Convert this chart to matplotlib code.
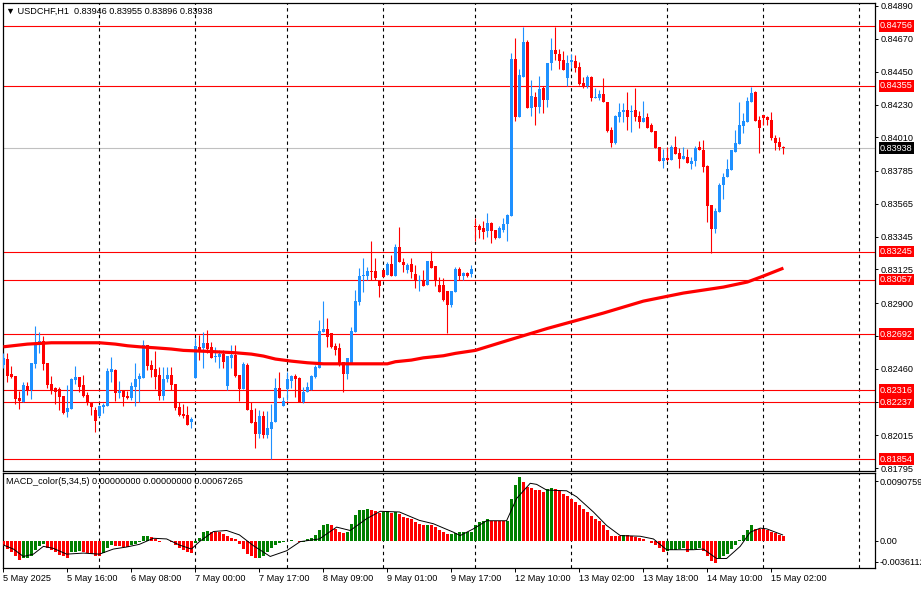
import numpy as np
import matplotlib.pyplot as plt
from matplotlib.transforms import blended_transform_factory

plt.rcParams['font.family'] = ['Liberation Sans', 'DejaVu Sans']

# USDCHF H1 candles, 5 May 2025 00:00 .. 15 May 2025 05:00 (bar index 0..195)
opens = [0.82485, 0.82525, 0.82424, 0.82411, 0.82263, 0.82237, 0.82344, 0.82317, 0.82491, 0.82619,
         0.82645, 0.82498, 0.82357, 0.82330, 0.82324, 0.82277, 0.82170, 0.82190, 0.82384, 0.82404,
         0.82351, 0.82284, 0.82237, 0.82183, 0.82143, 0.82203, 0.82210, 0.82438, 0.82451, 0.82297,
         0.82317, 0.82277, 0.82263, 0.82337, 0.82391, 0.82397, 0.82619, 0.82485, 0.82458, 0.82418,
         0.82277, 0.82391, 0.82418, 0.82357, 0.82203, 0.82156, 0.82150, 0.82103, 0.82397, 0.82605,
         0.82598, 0.82632, 0.82605, 0.82538, 0.82538, 0.82558, 0.82344, 0.82531, 0.82552, 0.82418,
         0.82324, 0.82485, 0.82183, 0.82103, 0.82022, 0.82143, 0.82016, 0.82056, 0.82103, 0.82330,
         0.82210, 0.82324, 0.82377, 0.82411, 0.82397, 0.82237, 0.82304, 0.82317, 0.82404, 0.82464,
         0.82706, 0.82726, 0.82699, 0.82612, 0.82598, 0.82505, 0.82424, 0.82498, 0.82706, 0.82907,
         0.83081, 0.83081, 0.83114, 0.83114, 0.83054, 0.83121, 0.83088, 0.83161, 0.83081, 0.83275,
         0.83175, 0.83121, 0.83161, 0.83094, 0.83047, 0.83054, 0.83021, 0.83181, 0.83148, 0.83021,
         0.83021, 0.82980, 0.82887, 0.82974, 0.83128, 0.83081, 0.83101, 0.83094, 0.83416, 0.83416,
         0.83402, 0.83382, 0.83436, 0.83389, 0.83335, 0.83389, 0.83429, 0.83483, 0.84535, 0.84146,
         0.84414, 0.84649, 0.84206, 0.84280, 0.84213, 0.84340, 0.84260, 0.84508, 0.84595, 0.84568,
         0.84528, 0.84407, 0.84515, 0.84521, 0.84481, 0.84374, 0.84354, 0.84414, 0.84273, 0.84273,
         0.84300, 0.84247, 0.84059, 0.83972, 0.84146, 0.84180, 0.84193, 0.84180, 0.84193, 0.84153,
         0.84113, 0.84146, 0.84093, 0.84052, 0.83945, 0.83851, 0.83871, 0.83858, 0.83945, 0.83905,
         0.83865, 0.83878, 0.83831, 0.83851, 0.83945, 0.83925, 0.83818, 0.83557, 0.83396, 0.83510,
         0.83691, 0.83744, 0.83791, 0.83912, 0.83965, 0.84086, 0.84113, 0.84247, 0.84314, 0.84126,
         0.84160, 0.84146, 0.84126, 0.84005, 0.83979, 0.83946]
highs = [0.82565, 0.82565, 0.82478, 0.82411, 0.82310, 0.82371, 0.82371, 0.82498, 0.82746, 0.82706,
         0.82679, 0.82498, 0.82411, 0.82337, 0.82337, 0.82277, 0.82351, 0.82397, 0.82478, 0.82404,
         0.82418, 0.82304, 0.82237, 0.82203, 0.82217, 0.82230, 0.82464, 0.82538, 0.82458, 0.82377,
         0.82317, 0.82310, 0.82371, 0.82498, 0.82431, 0.82652, 0.82619, 0.82518, 0.82578, 0.82471,
         0.82471, 0.82471, 0.82471, 0.82357, 0.82237, 0.82223, 0.82210, 0.82136, 0.82665, 0.82686,
         0.82706, 0.82719, 0.82639, 0.82605, 0.82585, 0.82585, 0.82545, 0.82619, 0.82619, 0.82418,
         0.82505, 0.82498, 0.82237, 0.82196, 0.82183, 0.82176, 0.82176, 0.82223, 0.82397, 0.82438,
         0.82270, 0.82438, 0.82418, 0.82424, 0.82404, 0.82337, 0.82371, 0.82418, 0.82485, 0.82786,
         0.82913, 0.82799, 0.82699, 0.82632, 0.82632, 0.82505, 0.82531, 0.82739, 0.82987, 0.83134,
         0.83201, 0.83141, 0.83315, 0.83201, 0.83054, 0.83121, 0.83175, 0.83222, 0.83295, 0.83409,
         0.83201, 0.83168, 0.83201, 0.83155, 0.83088, 0.83121, 0.83181, 0.83248, 0.83148, 0.83074,
         0.83067, 0.82980, 0.82980, 0.83141, 0.83141, 0.83108, 0.83108, 0.83155, 0.83469, 0.83429,
         0.83449, 0.83503, 0.83443, 0.83389, 0.83416, 0.83469, 0.83496, 0.84575, 0.84675, 0.84468,
         0.84749, 0.84662, 0.84394, 0.84314, 0.84421, 0.84354, 0.84508, 0.84675, 0.84749, 0.84602,
         0.84588, 0.84562, 0.84568, 0.84562, 0.84515, 0.84414, 0.84428, 0.84421, 0.84340, 0.84327,
         0.84407, 0.84247, 0.84079, 0.84160, 0.84240, 0.84240, 0.84314, 0.84227, 0.84340, 0.84186,
         0.84253, 0.84173, 0.84106, 0.84052, 0.83945, 0.83932, 0.83945, 0.83959, 0.84019, 0.83938,
         0.83945, 0.83932, 0.83878, 0.83952, 0.83985, 0.83992, 0.83825, 0.83557, 0.83536, 0.83704,
         0.83771, 0.83865, 0.83925, 0.84059, 0.84247, 0.84173, 0.84280, 0.84347, 0.84320, 0.84153,
         0.84160, 0.84153, 0.84180, 0.84026, 0.84012, 0.83955]
lows = [0.82464, 0.82371, 0.82397, 0.82223, 0.82190, 0.82237, 0.82284, 0.82257, 0.82464, 0.82565,
        0.82451, 0.82330, 0.82290, 0.82223, 0.82183, 0.82156, 0.82136, 0.82190, 0.82357, 0.82304,
        0.82270, 0.82217, 0.82150, 0.82036, 0.82136, 0.82163, 0.82210, 0.82371, 0.82243, 0.82263,
        0.82210, 0.82257, 0.82250, 0.82210, 0.82237, 0.82397, 0.82451, 0.82404, 0.82324, 0.82250,
        0.82250, 0.82371, 0.82317, 0.82183, 0.82143, 0.82129, 0.82083, 0.82062, 0.82397, 0.82518,
        0.82464, 0.82565, 0.82531, 0.82505, 0.82464, 0.82464, 0.82317, 0.82464, 0.82404, 0.82243,
        0.82324, 0.82183, 0.82096, 0.81928, 0.81995, 0.81995, 0.81995, 0.81855, 0.82103, 0.82263,
        0.82210, 0.82250, 0.82330, 0.82270, 0.82237, 0.82230, 0.82304, 0.82317, 0.82397, 0.82464,
        0.82706, 0.82605, 0.82598, 0.82552, 0.82478, 0.82304, 0.82391, 0.82498, 0.82706, 0.82887,
        0.82974, 0.83054, 0.83054, 0.83054, 0.82940, 0.83074, 0.83088, 0.83081, 0.83081, 0.83175,
        0.83108, 0.83101, 0.83067, 0.83000, 0.82980, 0.83014, 0.83021, 0.83134, 0.83014, 0.82974,
        0.82913, 0.82699, 0.82873, 0.82974, 0.83054, 0.83054, 0.83074, 0.83074, 0.83315, 0.83335,
        0.83329, 0.83342, 0.83302, 0.83329, 0.83335, 0.83376, 0.83315, 0.83483, 0.84119, 0.84146,
        0.84414, 0.84206, 0.84153, 0.84093, 0.84173, 0.84173, 0.84213, 0.84461, 0.84528, 0.84468,
        0.84461, 0.84354, 0.84474, 0.84448, 0.84361, 0.84340, 0.84340, 0.84253, 0.84273, 0.84260,
        0.84247, 0.84046, 0.83945, 0.83965, 0.84113, 0.84113, 0.84059, 0.84046, 0.84119, 0.84072,
        0.84113, 0.84072, 0.84046, 0.83938, 0.83851, 0.83804, 0.83851, 0.83858, 0.83898, 0.83804,
        0.83865, 0.83838, 0.83798, 0.83818, 0.83925, 0.83778, 0.83443, 0.83235, 0.83369, 0.83510,
        0.83597, 0.83744, 0.83791, 0.83912, 0.83965, 0.84039, 0.84113, 0.84247, 0.84119, 0.83905,
        0.84093, 0.84093, 0.83992, 0.83925, 0.83925, 0.83896]
closes = [0.82531, 0.82411, 0.82404, 0.82257, 0.82243, 0.82351, 0.82317, 0.82498, 0.82625, 0.82645,
          0.82491, 0.82351, 0.82317, 0.82304, 0.82270, 0.82163, 0.82196, 0.82391, 0.82404, 0.82337,
          0.82277, 0.82237, 0.82203, 0.82109, 0.82210, 0.82217, 0.82444, 0.82458, 0.82297, 0.82310,
          0.82270, 0.82263, 0.82344, 0.82391, 0.82411, 0.82619, 0.82478, 0.82451, 0.82404, 0.82277,
          0.82391, 0.82418, 0.82351, 0.82196, 0.82150, 0.82143, 0.82083, 0.82123, 0.82612, 0.82578,
          0.82632, 0.82592, 0.82531, 0.82545, 0.82558, 0.82505, 0.82545, 0.82552, 0.82411, 0.82324,
          0.82491, 0.82183, 0.82096, 0.82022, 0.82143, 0.82016, 0.82062, 0.82103, 0.82330, 0.82263,
          0.82243, 0.82391, 0.82411, 0.82391, 0.82237, 0.82304, 0.82337, 0.82411, 0.82471, 0.82712,
          0.82726, 0.82672, 0.82605, 0.82585, 0.82485, 0.82424, 0.82531, 0.82712, 0.82913, 0.83081,
          0.83088, 0.83114, 0.83108, 0.83067, 0.83014, 0.83074, 0.83161, 0.83081, 0.83275, 0.83175,
          0.83155, 0.83155, 0.83108, 0.83054, 0.83054, 0.83014, 0.83181, 0.83134, 0.83054, 0.82974,
          0.82920, 0.82887, 0.82980, 0.83128, 0.83081, 0.83101, 0.83081, 0.83128, 0.83409, 0.83389,
          0.83376, 0.83436, 0.83382, 0.83335, 0.83402, 0.83429, 0.83490, 0.84535, 0.84146, 0.84428,
          0.84649, 0.84206, 0.84287, 0.84213, 0.84334, 0.84260, 0.84508, 0.84595, 0.84568, 0.84521,
          0.84461, 0.84508, 0.84528, 0.84474, 0.84367, 0.84347, 0.84414, 0.84273, 0.84280, 0.84300,
          0.84247, 0.84052, 0.83972, 0.84153, 0.84180, 0.84193, 0.84146, 0.84186, 0.84146, 0.84113,
          0.84139, 0.84072, 0.84046, 0.83938, 0.83851, 0.83871, 0.83858, 0.83945, 0.83898, 0.83865,
          0.83885, 0.83838, 0.83851, 0.83938, 0.83925, 0.83811, 0.83550, 0.83396, 0.83516, 0.83691,
          0.83744, 0.83798, 0.83925, 0.83972, 0.84093, 0.84119, 0.84253, 0.84307, 0.84119, 0.84072,
          0.84139, 0.84126, 0.84005, 0.83972, 0.83945, 0.83938]

# moving average (thick red line), read at some bars
ma_idx = [0, 6, 12, 24, 28, 31, 34, 38, 42, 45, 53, 58, 62, 65, 68, 72, 76, 80, 96, 98,
          102, 105, 110, 113, 118, 126, 136, 150, 160, 170, 180, 186, 190, 195]
ma_val = [0.82607, 0.82625, 0.82634, 0.82634, 0.82625, 0.82614, 0.82607, 0.82600, 0.82592, 0.82583,
          0.82574, 0.82567, 0.82558, 0.82545, 0.82525, 0.82511, 0.82500, 0.82493, 0.82493, 0.82507,
          0.82518, 0.82533, 0.82547, 0.82563, 0.82583, 0.82649, 0.82730, 0.82833, 0.82913, 0.82967,
          0.83007, 0.83041, 0.83081, 0.83134]

# horizontal levels
levels = [0.84756, 0.84355, 0.83245, 0.83057, 0.82692, 0.82316, 0.82237, 0.81854]
bid = 0.83938

# MACD_color(5,34,5) histogram and signal
macd = [-0.00072, -0.00108, -0.00153, -0.00198, -0.00252, -0.00234, -0.00233, -0.00198, -0.00117, -0.00063,
        -0.00045, -0.00099, -0.00117, -0.00153, -0.00189, -0.00207, -0.00225, -0.00153, -0.00144, -0.00140,
        -0.00153, -0.00162, -0.00176, -0.00198, -0.00199, -0.00162, -0.00099, -0.00054, -0.00072, -0.00073,
        -0.00074, -0.00075, -0.00054, -0.00036, -0.00018, 0.00063, 0.00064, 0.00054, 0.00027, -0.00009,
        -0.00005, 0.00002, -0.00018, -0.00054, -0.00099, -0.00117, -0.00153, -0.00162, -0.00027, 0.00045,
        0.00126, 0.00135, 0.00126, 0.00124, 0.00117, 0.00090, 0.00063, 0.00045, 0.00027, -0.00045,
        -0.00108, -0.00180, -0.00198, -0.00225, -0.00222, -0.00198, -0.00144, -0.00099, -0.00054, -0.00027,
        -0.00009, 0.00000, 0.00018, 0.00000, -0.00018, -0.00009, 0.00027, 0.00036, 0.00081, 0.00153,
        0.00207, 0.00225, 0.00207, 0.00162, 0.00117, 0.00108, 0.00117, 0.00230, 0.00342, 0.00410,
        0.00419, 0.00423, 0.00410, 0.00396, 0.00378, 0.00387, 0.00396, 0.00378, 0.00387, 0.00365,
        0.00320, 0.00306, 0.00288, 0.00252, 0.00230, 0.00207, 0.00216, 0.00207, 0.00185, 0.00153,
        0.00126, 0.00095, 0.00099, 0.00108, 0.00117, 0.00119, 0.00122, 0.00126, 0.00207, 0.00252,
        0.00270, 0.00288, 0.00270, 0.00266, 0.00265, 0.00261, 0.00270, 0.00567, 0.00747, 0.00851,
        0.00783, 0.00725, 0.00702, 0.00684, 0.00675, 0.00657, 0.00693, 0.00702, 0.00700, 0.00666,
        0.00621, 0.00603, 0.00567, 0.00522, 0.00477, 0.00423, 0.00387, 0.00333, 0.00297, 0.00261,
        0.00216, 0.00153, 0.00072, 0.00070, 0.00068, 0.00081, 0.00077, 0.00072, 0.00050, 0.00036,
        0.00027, 0.00000, -0.00027, -0.00054, -0.00099, -0.00144, -0.00131, -0.00126, -0.00117, -0.00108,
        -0.00099, -0.00144, -0.00117, -0.00108, -0.00099, -0.00131, -0.00198, -0.00266, -0.00297, -0.00234,
        -0.00207, -0.00176, -0.00108, -0.00054, 0.00018, 0.00081, 0.00153, 0.00207, 0.00160, 0.00158,
        0.00156, 0.00140, 0.00120, 0.00100, 0.00080, 0.00067]
sig_idx = [0, 2.5, 5, 7.5, 10, 12.5, 15.8, 20, 24, 27.5, 30.8, 34, 37.5, 40.8, 44, 47, 49, 52.5,
           55.8, 59, 62.5, 66.7, 70.8, 74.2, 79, 83.3, 86.7, 90.8, 94.2, 99, 104, 107.5, 112.5,
           114.2, 117.5, 120.8, 125.8, 128.3, 131.7, 133.3, 135.8, 140.8, 143.3, 147.5, 150.8,
           154.2, 159.2, 162.5, 165.8, 172.5, 175, 178.3, 180.8, 184.2, 186.7, 189.2, 190.8, 194.8]
sig_val = [-0.00054, -0.00108, -0.00207, -0.00176, -0.00072, -0.00099, -0.00176, -0.00162, -0.00176,
           -0.00108, -0.00081, -0.00045, 0.00036, 0.00027, -0.00054, -0.00108, -0.00009, 0.00126,
           0.00140, 0.00081, -0.00063, -0.00207, -0.00131, -0.00009, 0.00027, 0.00185, 0.00140,
           0.00297, 0.00396, 0.00387, 0.00275, 0.00230, 0.00117, 0.00072, 0.00162, 0.00270, 0.00270,
           0.00567, 0.00770, 0.00756, 0.00680, 0.00670, 0.00590, 0.00387, 0.00207, 0.00072, 0.00063,
           0.00027, -0.00117, -0.00117, -0.00108, -0.00234, -0.00234, -0.00072, 0.00117, 0.00171,
           0.00162, 0.00081]

price_ticks = [0.84890, 0.84670, 0.84450, 0.84230, 0.84010, 0.83785, 0.83565, 0.83345, 0.83125,
               0.82900, 0.82680, 0.82460, 0.82235, 0.82015, 0.81795]
time_pos = [0, 16, 32, 48, 64, 80, 96, 112, 128, 144, 160, 176, 192]
time_labels = ["5 May 2025", "5 May 16:00", "6 May 08:00", "7 May 00:00", "7 May 17:00",
               "8 May 09:00", "9 May 01:00", "9 May 17:00", "12 May 10:00", "13 May 02:00",
               "13 May 18:00", "14 May 10:00", "15 May 02:00"]
day_starts = [24, 48, 71, 95, 118, 142, 166, 190, 214]

BLUE = '#1E90FF'
RED = '#FF0000'
GREEN = '#008000'
FS = 6.6

W, H = 921, 590
fig = plt.figure(figsize=(W / 100, H / 100), dpi=100)


def box(x0, y0, x1, y1):
    return [x0 / W, 1 - y1 / H, (x1 - x0) / W, (y1 - y0) / H]


ax = fig.add_axes(box(3, 3, 875, 471))
axm = fig.add_axes(box(3, 473, 875, 568))

o = np.array(opens)
h = np.array(highs)
l = np.array(lows)
c = np.array(closes)
x = np.arange(len(o))
col = np.where(c >= o, BLUE, RED)

# candles
ax.vlines(x, l, h, colors=col, lw=0.8, zorder=3)
body = np.maximum(np.abs(c - o), 0.00003)
ax.bar(x, body, bottom=np.minimum(o, c), width=0.78, color=col, lw=0, zorder=4)

ax.plot(ma_idx, ma_val, color=RED, lw=2.3, solid_capstyle='butt', zorder=5)

for lv in levels:
    ax.axhline(lv, color=RED, lw=0.8, zorder=2)
ax.axhline(bid, color='#C0C0C0', lw=0.8, zorder=1)

for a in (ax, axm):
    for d in day_starts:
        a.axvline(d, color='black', lw=0.8, ls=(0, (3, 3)), zorder=1)
    a.set_xlim(-0.1, 217.9)
    for s in a.spines.values():
        s.set_color('black')
        s.set_linewidth(0.9)

ax.set_ylim(0.81775, 0.84910)
ax.yaxis.tick_right()
ax.set_yticks(price_ticks)
# labels under the level boxes are covered in the original, left blank here
covered = {0.82680, 0.82235}
ax.set_yticklabels(["" if v in covered else f"{v:.5f}" for v in price_ticks])
ax.tick_params(axis='y', direction='out', length=2.5, width=0.7, pad=1.5, labelsize=FS)
ax.set_xticks([])

tr = blended_transform_factory(ax.transAxes, ax.transData)
for lv in levels:
    ax.text(1.0055, lv, f"{lv:.5f}", transform=tr, fontsize=FS, color='white', va='center',
            ha='left', zorder=10, clip_on=False,
            bbox=dict(boxstyle='square,pad=0.14', fc=RED, ec='none'))
ax.text(1.0055, bid, f"{bid:.5f}", transform=tr, fontsize=FS, color='white', va='center',
        ha='left', zorder=10, clip_on=False,
        bbox=dict(boxstyle='square,pad=0.14', fc='black', ec='none'))

ax.text(0.004, 0.992, "\u25BC USDCHF,H1  0.83946 0.83955 0.83896 0.83938",
        transform=ax.transAxes, fontsize=FS, va='top', ha='left', zorder=10,
        family=['Liberation Sans', 'DejaVu Sans'])

# MACD panel
m = np.array(macd)
up = np.r_[False, m[1:] > m[:-1]]
axm.bar(x, m, width=0.78, color=np.where(up, GREEN, RED), lw=0, zorder=3)
axm.plot(sig_idx, sig_val, color='black', lw=0.7, zorder=4)
axm.set_ylim(-0.0036112, 0.0090759)
axm.yaxis.tick_right()
axm.set_yticks([0.0080, 0.0, -0.0028])
axm.set_yticklabels(["0.0090759", "0.00", "-0.0036112"])
axm.tick_params(axis='y', direction='out', length=2.5, width=0.7, pad=1.0, labelsize=FS)
axm.set_xticks(time_pos)
axm.set_xticklabels(time_labels)
axm.tick_params(axis='x', direction='out', length=3, width=0.7, pad=1.5, labelsize=FS)
for lab in axm.get_xticklabels():
    lab.set_ha('left')
axm.text(0.004, 0.96, "MACD_color(5,34,5) 0.00000000 0.00000000 0.00067265",
         transform=axm.transAxes, fontsize=FS, va='top', ha='left', zorder=10)

fig.savefig("out.png", dpi=100)
